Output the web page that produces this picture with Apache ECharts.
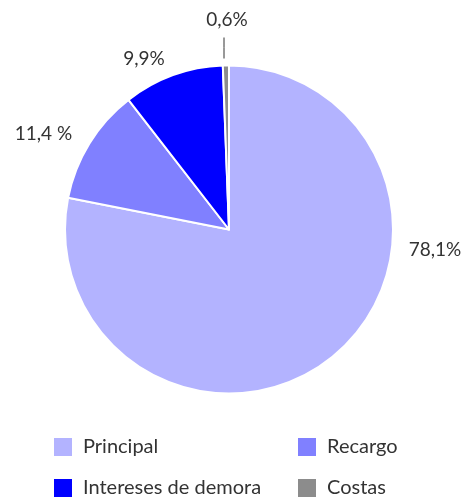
<!DOCTYPE html>
<html>
<head>
<meta charset="utf-8">
<script src="https://cdn.jsdelivr.net/npm/echarts@6/dist/echarts.min.js"></script>
<style>
  html, body { margin: 0; padding: 0; background: #fff; }
  #main { width: 464px; height: 497px; }
</style>
</head>
<body>
<div id="main"></div>
<script>
// datos
const categorias = ['Principal', 'Recargo', 'Intereses de demora', 'Costas'];
const valores = [78.1, 11.4, 9.9, 0.6];
const etiquetas = ['78,1%', '11,4 %', '9,9%', '0,6%'];
const colores = ['#b3b3ff', '#8080ff', '#0000ff', '#8c8c8c'];

const cx = 229, cy = 229.5, radio = 164;

const chart = echarts.init(document.getElementById('main'));

const datos = categorias.map((c, i) => ({
  name: c,
  value: valores[i],
  itemStyle: { color: colores[i] },
  labelLine: { show: i === 3 }
}));

// una leyenda por elemento, en dos columnas
const colLeyenda = [52, 296, 52, 296];
const filaLeyenda = [436, 436, 477, 477];
const leyendas = categorias.map((c, i) => ({
  data: [c],
  left: colLeyenda[i], top: filaLeyenda[i],
  padding: 0,
  icon: 'rect', itemWidth: 20, itemHeight: 20,
  textStyle: { fontSize: 20, color: '#333', padding: [0, 0, 0, 5] }
}));

const option = {
  animation: false,
  textStyle: { fontFamily: 'Lato, sans-serif' },
  legend: leyendas,
  series: [{
    type: 'pie',
    center: [cx, cy],
    radius: [0, radio],
    startAngle: 90,
    clockwise: true,
    avoidLabelOverlap: false,
    itemStyle: { borderColor: '#fff', borderWidth: 2 },
    label: {
      show: true,
      position: 'outside',
      fontSize: 19,
      color: '#333',
      distanceToLabelLine: 2,
      formatter: p => etiquetas[p.dataIndex]
    },
    labelLine: { length: 18, length2: 0, lineStyle: { color: '#333', width: 1 } },
    labelLayout: function (p) {
      if (p.dataIndex === 0) {
        return { x: cx + 206, y: cy + 20, align: 'center', verticalAlign: 'middle' };
      }
      if (p.dataIndex === 3) {
        return {
          x: cx - 2, y: cy - 210, align: 'center', verticalAlign: 'middle',
          labelLinePoints: [[cx - 5, cy - 171], [cx - 5, cy - 182], [cx - 5, cy - 192]]
        };
      }
    },
    data: datos
  }]
};

chart.setOption(option);
</script>
</body>
</html>
